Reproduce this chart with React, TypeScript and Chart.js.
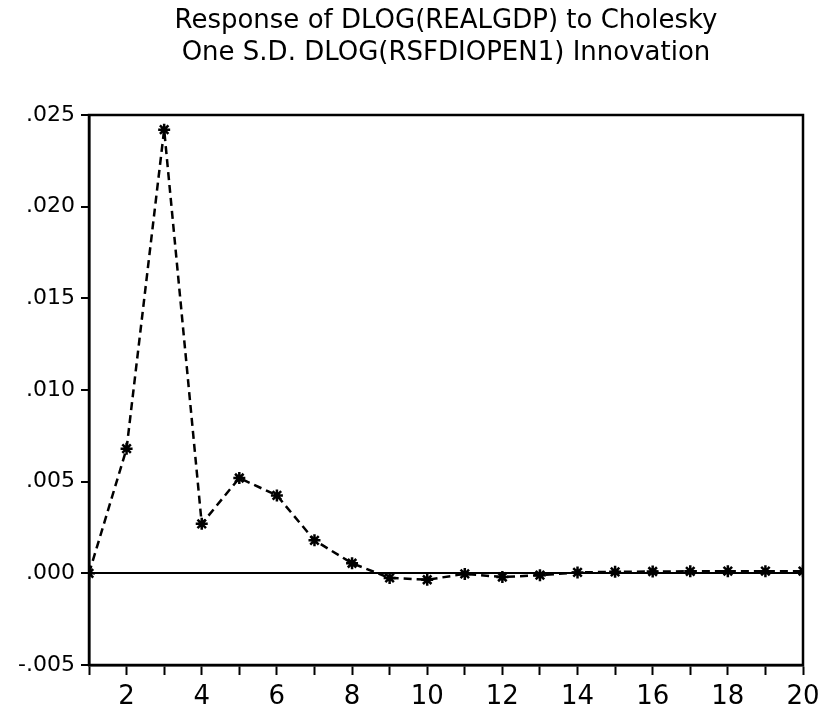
import React, { useEffect, useRef } from "react";
import { Chart, registerables } from "chart.js";

Chart.register(...registerables);

const TITLE_LINES = [
  "Response of DLOG(REALGDP) to Cholesky",
  "One S.D. DLOG(RSFDIOPEN1) Innovation",
];
const periods = [1, 2, 3, 4, 5, 6, 7, 8, 9, 10, 11, 12, 13, 14, 15, 16, 17, 18, 19, 20];
const responses = [
  0.0, 0.0068, 0.0242, 0.0027, 0.0052, 0.00425, 0.0018, 0.00055, -0.00025, -0.00035,
  -0.00003, -0.0002, -0.0001, 0.00005, 0.00008, 0.0001, 0.00011, 0.00012, 0.00012, 0.00012,
];
const yMin = -0.005;
const yMax = 0.025;
const yStep = 0.005;
const xLabelEvery = 2;

const FONT = "'DejaVu Sans', Arial, sans-serif";

function fmtY(v: number): string {
  const s = Math.abs(v).toFixed(3).replace(/^0/, "");
  return (v < -1e-9 ? "-" : "") + s;
}

const boxPlugin = {
  id: "plotBox",
  afterDraw(chart: any) {
    const { ctx, chartArea } = chart;
    ctx.save();
    ctx.strokeStyle = "#000";
    ctx.lineWidth = 2.5;
    ctx.strokeRect(chartArea.left, chartArea.top, chartArea.right - chartArea.left, chartArea.bottom - chartArea.top);
    ctx.restore();
  },
};

const titlePlugin = {
  id: "centredTitle",
  afterDraw(chart: any) {
    const { ctx } = chart;
    ctx.save();
    ctx.fillStyle = "#000";
    ctx.font = "26px " + FONT;
    ctx.textAlign = "center";
    ctx.textBaseline = "middle";
    TITLE_LINES.forEach((line, i) => {
      ctx.fillText(line, 446, 21 + i * 32);
    });
    ctx.restore();
  },
};

export default function App() {
  const ref = useRef<HTMLCanvasElement | null>(null);
  useEffect(() => {
    if (!ref.current) return;
    const chart = new Chart(ref.current, {
      type: "line",
      data: {
        datasets: [
          {
            data: periods.map((p, i) => ({ x: p, y: responses[i] })),
            borderColor: "#000",
            backgroundColor: "#000",
            borderWidth: 2.5,
            borderDash: [8, 5],
            pointStyle: "star",
            pointRadius: 6,
            pointBorderWidth: 2.5,
            pointBorderColor: "#000",
            tension: 0,
          },
        ],
      },
      plugins: [boxPlugin, titlePlugin],
      options: {
        animation: false,
        responsive: false,
        devicePixelRatio: 1,
        layout: { padding: { left: 0, right: 28, top: 115, bottom: 0 } },
        plugins: {
          legend: { display: false },
          tooltip: { enabled: false },
          title: { display: false },
        },
        scales: {
          x: {
            type: "linear",
            min: 1,
            max: 20,
            afterFit(scale: any) {
              scale.height = 46;
            },
            ticks: {
              stepSize: 1,
              autoSkip: false,
              maxRotation: 0,
              color: "#000",
              padding: 7,
              font: { family: FONT, size: 26 },
              callback: (v: any) => (Number(v) % xLabelEvery === 0 ? String(v) : ""),
            },
            grid: {
              drawOnChartArea: false,
              tickLength: 10,
              tickColor: "#000",
              tickWidth: 2,
            },
            border: { display: true, color: "#000", width: 2.5 },
          },
          y: {
            min: yMin,
            max: yMax,
            afterFit(scale: any) {
              scale.width = 89;
            },
            ticks: {
              stepSize: yStep,
              color: "#000",
              padding: 6,
              font: { family: FONT, size: 22 },
              callback: (v: any) => fmtY(Number(v)),
            },
            grid: {
              drawOnChartArea: true,
              color: (c: any) => (c.tick && Math.abs(c.tick.value) < 1e-9 ? "#000" : "rgba(0,0,0,0)"),
              lineWidth: 2,
              tickLength: 8,
              tickColor: "#000",
              tickWidth: 2,
            },
            border: { display: true, color: "#000", width: 2.5 },
          },
        },
      },
    } as any);
    return () => chart.destroy();
  }, []);
  return (
    <div style={{ position: "fixed", left: 0, top: 0, width: 831, height: 711, background: "#fff" }}>
      <canvas ref={ref} width={831} height={711} style={{ display: "block" }} />
    </div>
  );
}
